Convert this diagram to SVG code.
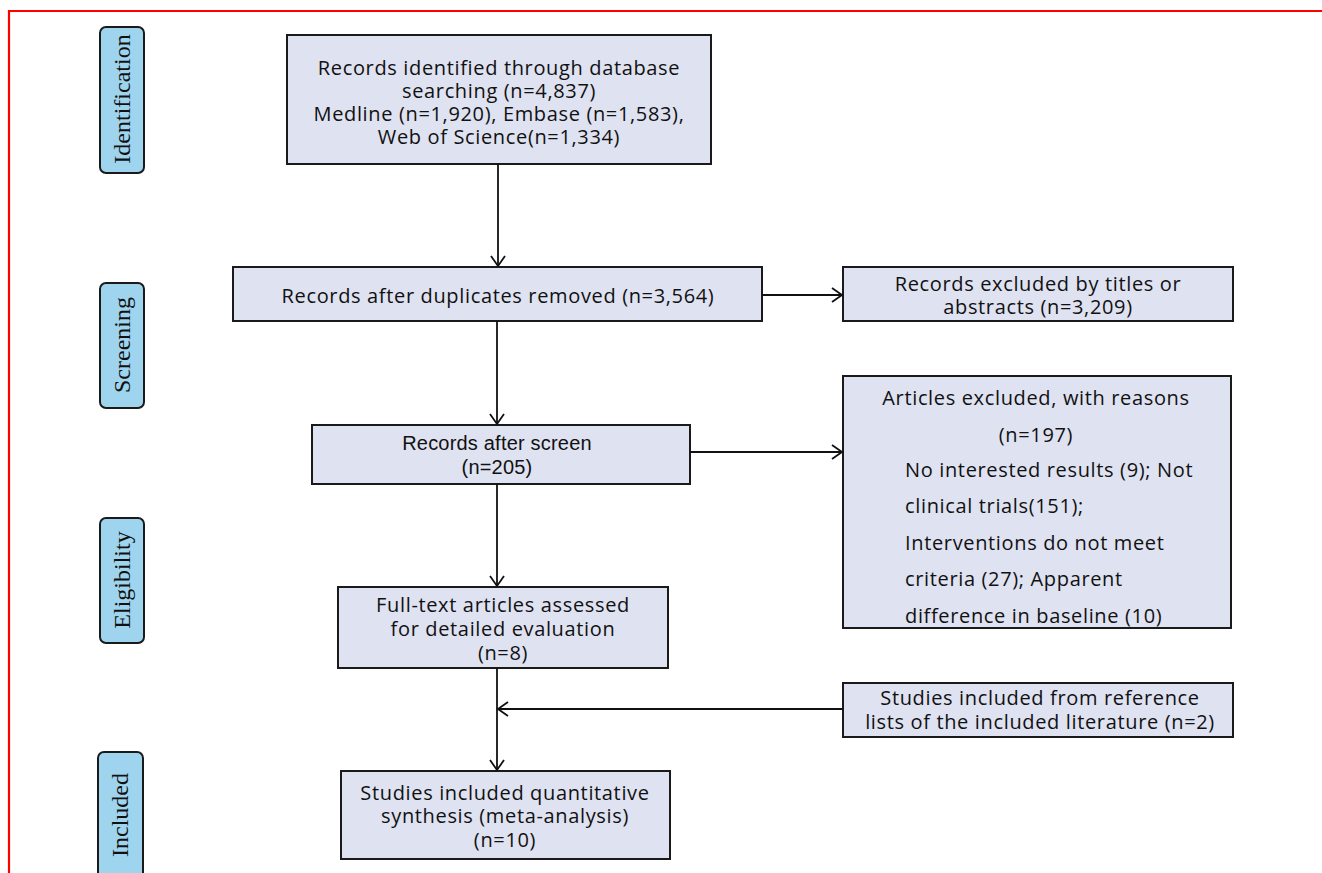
<svg xmlns="http://www.w3.org/2000/svg" width="1322" height="873" viewBox="0 0 1322 873">
<style>
.stage rect{fill:#9fd4ef;stroke:#1a1a1a;stroke-width:2}
.stage text{font-family:"Liberation Serif","Times New Roman",serif;font-size:24px;fill:#111;text-anchor:middle;dominant-baseline:central}
.box rect{fill:#dfe2f1;stroke:#1a1a1a;stroke-width:2}
.box text{font-family:"Open Sans","Noto Sans",sans-serif;font-size:20px;letter-spacing:0.65px;fill:#111;text-anchor:middle;dominant-baseline:central}
.box text.arial{font-family:"Liberation Sans",Arial,sans-serif;font-size:20px;letter-spacing:0.2px}
.box text.left{text-anchor:start}
.conn line{stroke:#111;stroke-width:1.8;fill:none}
</style>
<defs>
<marker id="arr" markerUnits="userSpaceOnUse" markerWidth="14" markerHeight="18" refX="11" refY="8" orient="auto">
<path d="M1,1 L11,8 L1,15" fill="none" stroke="#111" stroke-width="1.8"/>
</marker>
</defs>
<rect width="1322" height="873" fill="#fff"/>
<path d="M9,873 L9,11 L1322,11" fill="none" stroke="#ff0000" stroke-width="2.2"/>

<g id="stage-identification" class="stage"><rect x="100" y="27" width="44" height="146" rx="6"/><text transform="rotate(-90 122 99)" x="122" y="99">Identification</text></g>
<g id="stage-screening" class="stage"><rect x="100" y="283" width="44" height="125" rx="6"/><text transform="rotate(-90 122 345)" x="122" y="345">Screening</text></g>
<g id="stage-eligibility" class="stage"><rect x="100" y="518" width="44" height="125" rx="6"/><text transform="rotate(-90 122 580)" x="122" y="580">Eligibility</text></g>
<g id="stage-included" class="stage"><rect x="98" y="752" width="45" height="135" rx="6"/><text transform="rotate(-90 120 815)" x="120" y="815">Included</text></g>

<g id="identified" class="box"><rect x="287" y="35" width="424" height="129"/>
<text x="499" y="67">Records identified through database</text>
<text x="499" y="90">searching (n=4,837)</text>
<text x="499" y="113">Medline (n=1,920), Embase (n=1,583),</text>
<text x="499" y="136">Web of Science(n=1,334)</text></g>

<g id="duplicates" class="box"><rect x="233" y="267" width="529" height="54"/>
<text x="498" y="295">Records after duplicates removed (n=3,564)</text></g>

<g id="excluded-titles" class="box"><rect x="843" y="267" width="390" height="54"/>
<text x="1038" y="283">Records excluded by titles or</text>
<text x="1038" y="306">abstracts (n=3,209)</text></g>

<g id="screen" class="box"><rect x="312" y="425" width="378" height="59"/>
<text class="arial" x="497" y="443">Records after screen</text>
<text class="arial" x="497" y="467">(n=205)</text></g>

<g id="excluded-reasons" class="box"><rect x="843" y="376" width="388" height="252"/>
<text x="1036" y="397">Articles excluded, with reasons</text>
<text x="1036" y="434">(n=197)</text>
<text class="left" x="905" y="469">No interested results (9); Not</text>
<text class="left" x="905" y="505">clinical trials(151);</text>
<text class="left" x="905" y="542">Interventions do not meet</text>
<text class="left" x="905" y="578">criteria (27); Apparent</text>
<text class="left" x="905" y="615">difference in baseline (10)</text></g>

<g id="fulltext" class="box"><rect x="338" y="587" width="330" height="81"/>
<text x="503" y="604">Full-text articles assessed</text>
<text x="503" y="628">for detailed evaluation</text>
<text x="503" y="652">(n=8)</text></g>

<g id="reference-lists" class="box"><rect x="843" y="683" width="390" height="54"/>
<text x="1040" y="697">Studies included from reference</text>
<text x="1040" y="721">lists of the included literature (n=2)</text></g>

<g id="included-synthesis" class="box"><rect x="341" y="771" width="329" height="88"/>
<text x="505" y="792">Studies included quantitative</text>
<text x="505" y="815">synthesis (meta-analysis)</text>
<text x="505" y="839">(n=10)</text></g>

<g id="connectors" class="conn">
<line x1="498" y1="164" x2="498" y2="266" marker-end="url(#arr)"/>
<line x1="762" y1="295" x2="842" y2="295" marker-end="url(#arr)"/>
<line x1="497" y1="321" x2="497" y2="424" marker-end="url(#arr)"/>
<line x1="690" y1="452" x2="842" y2="452" marker-end="url(#arr)"/>
<line x1="497" y1="484" x2="497" y2="586" marker-end="url(#arr)"/>
<line x1="497" y1="668" x2="497" y2="770" marker-end="url(#arr)"/>
<line x1="843" y1="709" x2="498" y2="709" marker-end="url(#arr)"/>
</g>
</svg>
